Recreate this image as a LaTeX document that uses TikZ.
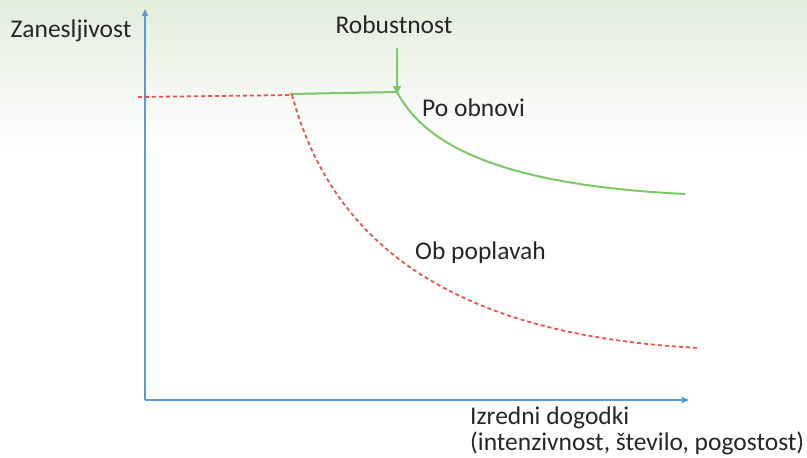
\documentclass[tikz,border=0pt]{standalone}
\usepackage{fontspec}
\setmainfont{Carlito}
\usetikzlibrary{arrows.meta}
\definecolor{axisblue}{HTML}{5B9BD5}
\definecolor{curvegreen}{HTML}{7CC86A}
\definecolor{curvered}{HTML}{F0504A}
\definecolor{bggreen}{HTML}{E2EDDC}
\begin{document}
\begin{tikzpicture}[x=1pt,y=-1pt,
  axisline/.style={draw=axisblue, line width=2pt, -{Triangle[length=7pt,width=6pt]}},
  greenline/.style={draw=curvegreen, line width=2pt},
  redline/.style={draw=curvered, line width=1.8pt, dash pattern=on 4pt off 3pt},
  lbl/.style={font=\fontsize{25.5}{30}\selectfont, text=black!85, inner sep=0pt}]
\useasboundingbox (0,0) rectangle (807,458);
\shade[top color=bggreen, bottom color=white] (0,0) rectangle (807,150);
% axes
\coordinate (origin) at (145,400);
\coordinate (ytip) at (145,9);
\coordinate (xtip) at (689,400);
\draw[axisline] (origin) -- (ytip);
\draw[axisline] (origin) -- (xtip);
% labels
\node[lbl] (ylab) at (71,31) {Zanesljivost};
\node[lbl] (robust) at (394,25) {Robustnost};
\node[lbl, anchor=west] (obnovi) at (422,108) {Po obnovi};
\node[lbl, anchor=west] (poplavah) at (415,253) {Ob poplavah};
\node[lbl, anchor=west] (xlab1) at (470,418) {Izredni dogodki};
\node[lbl, anchor=west] (xlab2) at (470,443) {(intenzivnost, število, pogostost)};
% robustness arrow
\coordinate (knee) at (397,92);
\coordinate (arrstart) at (397,48);
\draw[greenline, -{Triangle[length=8pt,width=8pt]}] (arrstart) -- ([yshift=-2]knee);
% green curve
\coordinate (gstart) at (290,94);
\coordinate (gend) at (685,194);
\draw[greenline] (gstart) -- (knee) .. controls (425,145) and (500,185) .. (gend);
% red dashed curve
\coordinate (rstart) at (138,97);
\coordinate (rknee) at (292,95);
\coordinate (rend) at (700,348);
\draw[redline] (rstart) -- (rknee) .. controls (330,235) and (440,335) .. (rend);
\end{tikzpicture}
\end{document}
